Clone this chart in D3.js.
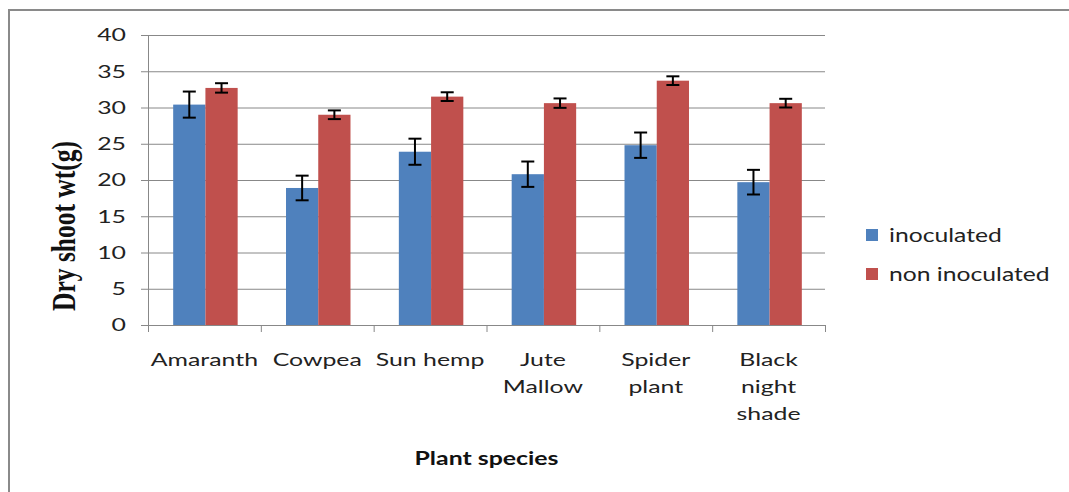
<!DOCTYPE html>
<html>
<head>
<meta charset="utf-8">
<script src="https://cdn.jsdelivr.net/npm/d3@7"></script>
<style>
  body { margin: 0; background: #fff; }
  svg { display: block; }
</style>
</head>
<body>
<div id="chart"></div>
<script>
// data
var categories = [["Amaranth"], ["Cowpea"], ["Sun hemp"], ["Jute", "Mallow"], ["Spider", "plant"], ["Black", "night", "shade"]];
var seriesNames = ["inoculated", "non inoculated"];
var inoculated = [30.4, 18.9, 23.9, 20.8, 24.8, 19.7];
var nonInoculated = [32.7, 29.0, 31.5, 30.6, 33.7, 30.6];
var inoculatedErr = [1.8, 1.7, 1.8, 1.75, 1.75, 1.7];
var nonInoculatedErr = [0.65, 0.6, 0.6, 0.65, 0.6, 0.6];
var yTicks = [0, 5, 10, 15, 20, 25, 30, 35, 40];

const COLORS = ["#4f81bd", "#c0504d"];
const TICK_FONT = "Lato, 'Open Sans', sans-serif";
// the source picture is stretched sideways, so the text is too
const SX = 1.38;

var W = 1069, H = 492;
var margin = {top: 35, right: 244, bottom: 167, left: 148},
	width = W - margin.left - margin.right,
	height = H - margin.top - margin.bottom;

var root = d3.select("#chart")
	.append("svg")
	.attr("width", W)
	.attr("height", H);

// outer chart frame
root.append("rect")
	.attr("x", 9).attr("y", 10)
	.attr("width", W + 10).attr("height", H + 10)
	.attr("fill", "none")
	.attr("stroke", "#8a8a8a")
	.attr("stroke-width", 2);

var svg = root.append("g")
	.attr("transform", "translate(" + margin.left + "," + margin.top + ")");

var keys = categories.map(d => d.join(" "));
var x = d3.scaleBand()
	.domain(keys)
	.range([0, width])
	.paddingInner(0)
	.paddingOuter(0);

var x1 = d3.scaleBand()
	.domain(seriesNames)
	.range([1, x.bandwidth() + 1])
	.paddingOuter(0.75)
	.paddingInner(0);

var y = d3.scaleLinear()
	.domain([0, 40])
	.range([height, 0]);

// gridlines
svg.append("g")
	.selectAll("line")
	.data(yTicks)
	.enter()
	.append("line")
	.attr("x1", -7).attr("x2", width)
	.attr("y1", d => y(d) + 0.5).attr("y2", d => y(d) + 0.5)
	.attr("stroke", "#888")
	.attr("stroke-width", 1);

// y axis
var yAxis = svg.append("g")
	.call(d3.axisLeft(y).tickValues(yTicks).tickSize(0).tickPadding(22));
yAxis.select(".domain").remove();
yAxis.selectAll("text")
	.attr("x", -22 / SX)
	.attr("transform", "scale(" + SX + ",1)")
	.attr("font-family", TICK_FONT)
	.attr("font-size", "18px")
	.attr("fill", "#222");

svg.append("line")
	.attr("x1", 0.5).attr("x2", 0.5)
	.attr("y1", 0).attr("y2", height)
	.attr("stroke", "#888");

// x axis with tick marks between categories
svg.append("g")
	.selectAll("line")
	.data(d3.range(keys.length + 1))
	.enter()
	.append("line")
	.attr("x1", i => i * x.step() + 0.5)
	.attr("x2", i => i * x.step() + 0.5)
	.attr("y1", height).attr("y2", height + 7)
	.attr("stroke", "#888");

var series = [
	{name: seriesNames[0], values: inoculated, err: inoculatedErr, color: COLORS[0]},
	{name: seriesNames[1], values: nonInoculated, err: nonInoculatedErr, color: COLORS[1]}
];

// bars
series.forEach(function(s) {
	svg.append("g")
		.selectAll("rect")
		.data(s.values)
		.enter()
		.append("rect")
		.attr("x", (d, i) => x(keys[i]) + x1(s.name))
		.attr("y", d => y(d))
		.attr("width", x1.bandwidth())
		.attr("height", d => height - y(d))
		.attr("fill", s.color);
});

// error bars
series.forEach(function(s) {
	var g = svg.append("g")
		.attr("stroke", "#000")
		.attr("stroke-width", 2);
	s.values.forEach(function(v, i) {
		var cx = x(keys[i]) + x1(s.name) + x1.bandwidth() / 2;
		var lo = y(v - s.err[i]), hi = y(v + s.err[i]);
		g.append("line").attr("x1", cx).attr("x2", cx).attr("y1", lo).attr("y2", hi);
		g.append("line").attr("x1", cx - 6.5).attr("x2", cx + 6.5).attr("y1", lo).attr("y2", lo);
		g.append("line").attr("x1", cx - 6.5).attr("x2", cx + 6.5).attr("y1", hi).attr("y2", hi);
	});
});

// category labels
var labels = svg.append("g")
	.attr("font-family", TICK_FONT)
	.attr("font-size", "18px")
	.attr("fill", "#222")
	.attr("text-anchor", "middle");
categories.forEach(function(lines, i) {
	var cx = x(keys[i]) + x.bandwidth() / 2;
	var t = labels.append("text")
		.attr("transform", "translate(" + cx + "," + (height + 41) + ") scale(" + SX + ",1)");
	lines.forEach(function(l, j) {
		t.append("tspan")
			.attr("x", 0)
			.attr("dy", j == 0 ? 0 : 27)
			.text(l);
	});
});

// axis titles
svg.append("text")
	.attr("transform", "translate(" + (width / 2) + "," + (height + 140) + ") scale(" + SX + ",1)")
	.attr("text-anchor", "middle")
	.attr("font-family", TICK_FONT)
	.attr("font-weight", "bold")
	.attr("font-size", "18px")
	.attr("fill", "#111")
	.text("Plant species");

root.append("text")
	.attr("transform", "translate(75,226) scale(1.3,1) rotate(-90)")
	.attr("text-anchor", "middle")
	.attr("font-family", "'Liberation Serif', 'Times New Roman', serif")
	.attr("font-weight", "bold")
	.attr("font-size", "25.5px")
	.attr("fill", "#111")
	.text("Dry shoot wt(g)");

// legend
var legend = root.append("g")
	.attr("transform", "translate(866,235)");
seriesNames.forEach(function(n, i) {
	var row = legend.append("g").attr("transform", "translate(0," + (i * 39) + ")");
	row.append("rect")
		.attr("x", 0).attr("y", -6)
		.attr("width", 12).attr("height", 12)
		.attr("fill", COLORS[i]);
	row.append("text")
		.attr("transform", "translate(23,0) scale(1.3,1)")
		.attr("dy", "0.35em")
		.attr("font-family", TICK_FONT)
		.attr("font-size", "19px")
		.attr("fill", "#222")
		.text(n);
});
</script>
</body>
</html>
